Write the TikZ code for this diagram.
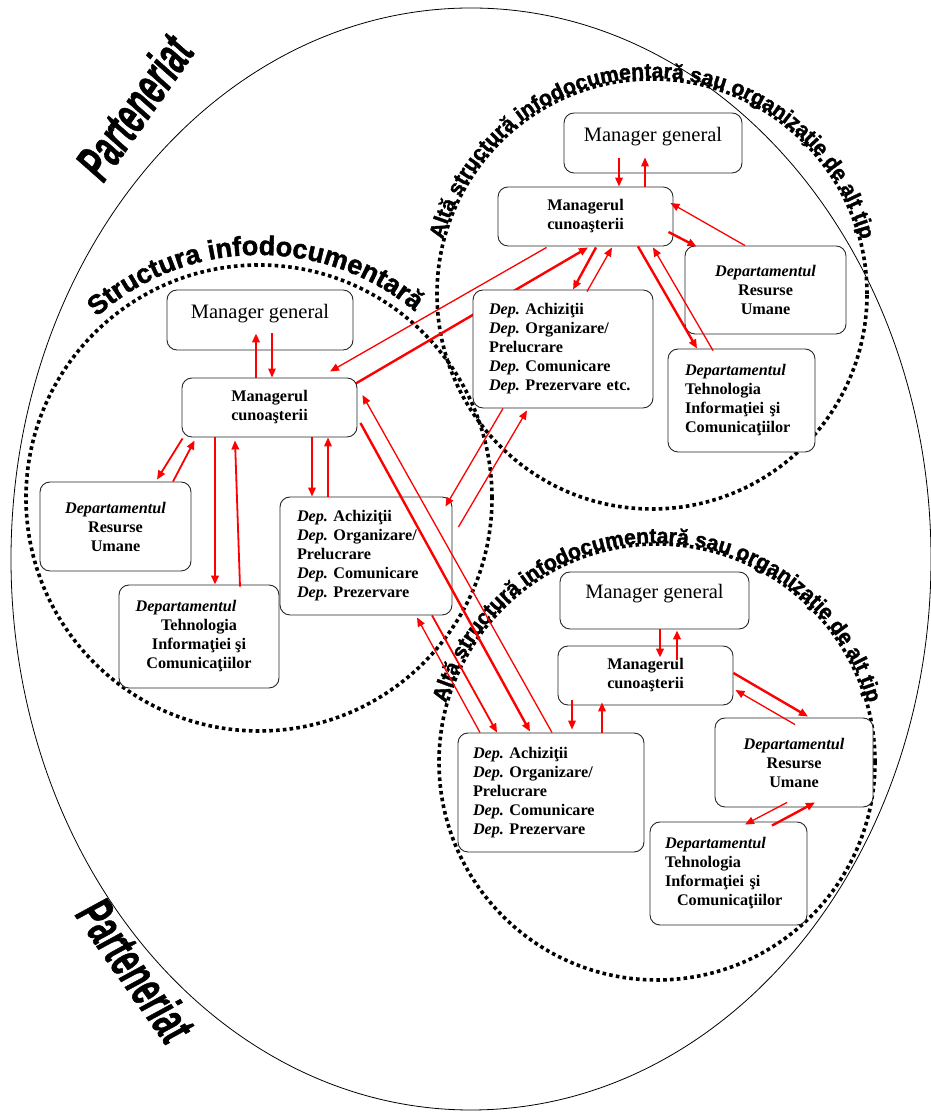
\documentclass[tikz,border=0pt]{standalone}
\usepackage{fontspec}
\setmainfont{Liberation Serif}
\newfontfamily\lsans{Liberation Sans}
\newfontfamily\lsansbold{Liberation Sans}[UprightFont=* Bold, FakeBold=1.6]
\newfontfamily\lsansparte{Liberation Sans}[UprightFont=* Bold Italic, FakeBold=1.2]
\usetikzlibrary{arrows.meta,decorations.text}
\pgfdeclarelayer{back}
\pgfdeclarelayer{mid}
\pgfsetlayers{back,mid,main}
\frenchspacing
\newcommand{\DepI}{\textit{Dep.}}
\newcommand{\labA}{\lsansbold\fontsize{27}{27}\selectfont}
\newcommand{\labB}{\lsansbold\fontsize{21.2}{22}\selectfont}
\begin{document}
\begin{tikzpicture}[x=1pt,y=1pt,
  rbox/.style={draw=black!85, line width=0.9pt, rounded corners=10pt, fill=white, inner sep=0pt,
    font=\fontsize{16.2}{19}\selectfont\bfseries, align=center},
  mgbox/.style={rbox, font=\fontsize{20.5}{23}\selectfont, text depth=18pt},
  dbox/.style={rbox, align=left},
  dotc/.style={line width=3.6pt, dash pattern=on 3.6pt off 3.2pt},
  redar/.style={red, line width=1.3pt, -{Triangle[length=9pt,width=7.5pt]}},
  redarM/.style={redar, line width=1.8pt},
  redarT/.style={redar, line width=2.4pt},
  parte/.style={font=\lsansparte\fontsize{53}{53}\selectfont, inner sep=0pt}
]
\useasboundingbox (0,0) rectangle (930,1113);

\begin{pgfonlayer}{back}
\draw[line width=0.8pt] (471,554) ellipse [x radius=460, y radius=551];
\draw[dotc] (259,615) circle [radius=233];
\draw[dotc] (652,819) circle [radius=215];
\draw[dotc] (657,351) circle [radius=218];
\path[decorate, decoration={text along path, text align=center,
  text={|\labA|Structura infodocumentară}}]
  (259,615) ++(171:243) arc[start angle=171, end angle=11, radius=243];
\path[decorate, decoration={text along path, text align=center,
  text={|\labB|Altă structură infodocumentară sau organizaţie de alt tip}}]
  (652,819) ++(178:216) arc[start angle=178, end angle=2, radius=216];
\path[decorate, decoration={text along path, text align=center,
  text={|\labB|Altă structură infodocumentară sau organizaţie de alt tip}}]
  (657,351) ++(178:219) arc[start angle=178, end angle=2, radius=219];
\end{pgfonlayer}

\node[parte, rotate=55, xscale=0.58] (partA) at (134,1006) {Parteneriat};
\node[parte, rotate=-55, xscale=0.58] (partB) at (136,143) {Parteneriat};

% left structure
\node[mgbox, minimum width=186pt, minimum height=60pt] (mgL) at (260,793) {Manager general};
\node[rbox, minimum width=175pt, minimum height=59pt] (mcL) at (269.5,705.5) {Managerul\\cunoaşterii};
\node[rbox, minimum width=151pt, minimum height=89pt] (ruL) at (115.5,586.5) {\textit{Departamentul}\\Resurse\\Umane};
\node[rbox, minimum width=160pt, minimum height=103pt] (tiL) at (199,476.5) {\textit{Departamentul}\hspace*{26pt}\\Tehnologia\\Informaţiei şi\\Comunicaţiilor};
\node[dbox, minimum width=172pt, minimum height=118pt, text width=138pt, inner xsep=17pt] (daL) at (366,557)
  {\DepI{} Achiziţii\\\DepI{} Organizare/\\Prelucrare\\\DepI{} Comunicare\\\DepI{} Prezervare};

% top-right structure
\node[mgbox, minimum width=178pt, minimum height=60pt] (mgT) at (653,970) {Manager general};
\node[rbox, minimum width=175pt, minimum height=59pt] (mcT) at (585.5,896.5) {Managerul\\cunoaşterii};
\node[rbox, minimum width=161pt, minimum height=88pt] (ruT) at (765.5,823) {\textit{Departamentul}\\Resurse\\Umane};
\node[dbox, minimum width=180pt, minimum height=118pt, text width=148pt, inner xsep=16pt] (daT) at (563,764)
  {\DepI{} Achiziţii\\\DepI{} Organizare/\\Prelucrare\\\DepI{} Comunicare\\\DepI{} Prezervare etc.};
\node[dbox, minimum width=147pt, minimum height=103pt, text width=113pt, inner xsep=17pt] (tiT) at (741.5,712.5)
  {\textit{Departamentul}\\Tehnologia\\Informaţiei şi\\Comunicaţiilor};

% bottom-right structure
\node[mgbox, minimum width=189pt, minimum height=57pt] (mgB) at (654.5,512.5) {Manager general};
\node[rbox, minimum width=175pt, minimum height=59pt] (mcB) at (645.5,437.5) {Managerul\\cunoaşterii};
\node[dbox, minimum width=186pt, minimum height=119pt, text width=156pt, inner xsep=15pt] (daB) at (551,320.5)
  {\DepI{} Achiziţii\\\DepI{} Organizare/\\Prelucrare\\\DepI{} Comunicare\\\DepI{} Prezervare};
\node[rbox, minimum width=158pt, minimum height=89pt] (ruB) at (794,350.5) {\textit{Departamentul}\\Resurse\\Umane};
\node[dbox, minimum width=157pt, minimum height=103pt, text width=127pt, inner xsep=15pt] (tiB) at (728.5,239.5)
  {\textit{Departamentul}\\Tehnologia\\Informaţiei şi\\\hspace*{12pt}Comunicaţiilor};

% arrows, left structure
\draw[redarT] ([xshift=-13.5pt]mcL.north) -- ([xshift=-4pt,yshift=17pt]mgL.south);
\draw[redar] ([xshift=12pt,yshift=17pt]mgL.south) -- ([xshift=2.5pt]mcL.north);
\draw[redarM] ([xshift=1pt,yshift=-1pt]mcL.south west) -- ([xshift=41.5pt,yshift=2pt]ruL.north);
\draw[redarM] ([xshift=57.5pt]ruL.north) -- ([xshift=13pt,yshift=-3pt]mcL.south west);
\draw[redarT] ([xshift=-54.5pt]mcL.south) -- ([xshift=16pt]tiL.north);
\draw[redarM] ([xshift=41pt,yshift=-2pt]tiL.north) -- ([xshift=-34.5pt,yshift=-3pt]mcL.south);
\draw[redarM] ([xshift=42.5pt]mcL.south) -- ([xshift=-54pt]daL.north);
\draw[redarM] ([xshift=-38pt]daL.north) -- ([xshift=58.5pt]mcL.south);

% left <-> top-right
\draw[redar] ([xshift=49pt,yshift=-1pt]mcT.south west) -- ([xshift=60.5pt,yshift=6pt]mcL.north);
\begin{pgfonlayer}{mid}
\draw[redarT] ([xshift=-12pt,yshift=-12pt]mcL.north east) -- ([xshift=2.5pt,yshift=-1pt]mcT.south);
\end{pgfonlayer}
\draw[redar] ([xshift=-60pt]daT.south) -- ([xshift=-7pt,yshift=-10pt]daL.north east);
\draw[redar] ([xshift=6pt,yshift=29pt]daL.east) -- ([xshift=-36pt,yshift=-2pt]daT.south);

% top-right structure
\draw[redarM] ([xshift=-34pt,yshift=15pt]mgT.south) -- ([xshift=33.5pt]mcT.north);
\draw[redarM] ([xshift=59.5pt]mcT.north) -- ([xshift=-8pt,yshift=16pt]mgT.south);
\draw[redarT] ([xshift=10.5pt,yshift=-1pt]mcT.south) -- ([xshift=10pt]daT.north);
\draw[redar] ([xshift=24pt,yshift=-2pt]daT.north) -- ([xshift=26.5pt,yshift=-1pt]mcT.south);
\draw[redar] ([xshift=-20.5pt]ruT.north) -- ([xshift=-3pt,yshift=13.5pt]mcT.east);
\draw[redarT] ([xshift=-5pt,yshift=-15.5pt]mcT.east) -- ([xshift=12pt,yshift=-1pt]ruT.north west);
\draw[redarT] ([xshift=52.5pt]mcT.south) -- ([xshift=-44.5pt]tiT.north);
\draw[redar] ([xshift=-28.5pt,yshift=-2pt]tiT.north) -- ([xshift=67.5pt,yshift=-1pt]mcT.south);

% bottom-right structure
\draw[redarT] ([xshift=5.5pt]mgB.south) -- ([xshift=14.5pt,yshift=-12pt]mcB.north);
\draw[redarT] ([xshift=31.5pt,yshift=-14pt]mcB.north) -- ([xshift=22.5pt,yshift=-1pt]mgB.south);
\draw[redarM] ([xshift=-73.5pt,yshift=5pt]mcB.south) -- ([xshift=21pt,yshift=3pt]daB.north);
\draw[redarM] ([xshift=51pt]daB.north) -- ([xshift=-43.5pt,yshift=3pt]mcB.south);
\draw[redarT] ([yshift=2.5pt]mcB.east) -- ([xshift=14pt,yshift=1pt]ruB.north);
\draw[redar] ([xshift=1pt,yshift=-7pt]ruB.north) -- ([xshift=2pt,yshift=-14.5pt]mcB.east);
\draw[redar] ([xshift=-7pt,yshift=5pt]ruB.south) -- ([xshift=16.5pt,yshift=-3pt]tiB.north);
\draw[redarT] ([xshift=43.5pt,yshift=-4pt]tiB.north) -- ([xshift=21pt,yshift=5pt]ruB.south);

% left <-> bottom-right
\draw[redar] ([xshift=-71pt]daB.north) -- ([xshift=51pt,yshift=-2pt]daL.south);
\draw[redarM] ([xshift=66pt]daL.south) -- ([xshift=-54pt]daB.north);
\draw[redarT] ([xshift=3pt,yshift=-15.5pt]mcL.east) -- ([xshift=-21pt,yshift=1pt]daB.north);
\draw[redar] ([xshift=1pt]daB.north) -- ([xshift=5pt,yshift=12.5pt]mcL.east);
\end{tikzpicture}
\end{document}
